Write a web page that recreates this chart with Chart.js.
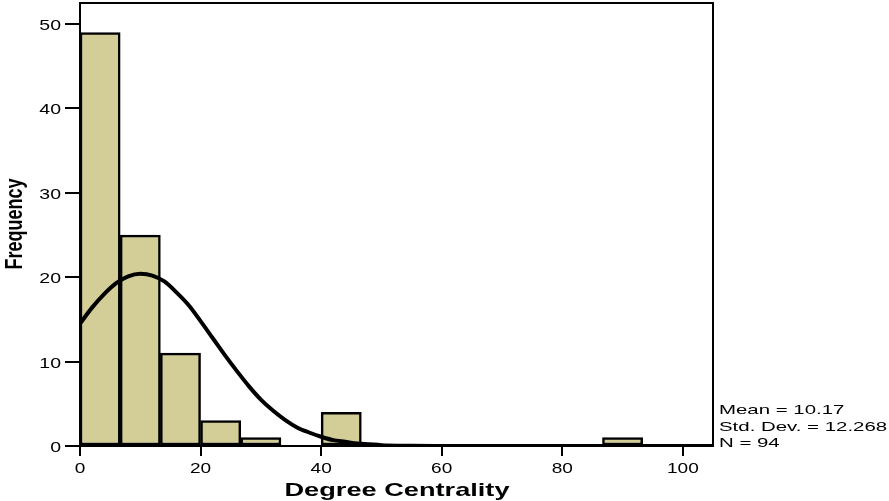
<!DOCTYPE html>
<html>
<head>
<meta charset="utf-8">
<script src="https://cdn.jsdelivr.net/npm/chart.js@4"></script>
<style>
  html, body { margin: 0; padding: 0; background: #fff; }
  canvas { display: block; }
</style>
</head>
<body>
<canvas id="histChart" width="889" height="501"></canvas>
<script>
// Histogram bins (start / end) and frequencies
const binStarts = [0, 6.67, 13.33, 20, 26.67, 33.33, 40, 46.67, 53.33, 60, 66.67, 73.33, 80, 86.67, 93.33];
const binEnds   = [6.67, 13.33, 20, 26.67, 33.33, 40, 46.67, 53.33, 60, 66.67, 73.33, 80, 86.67, 93.33, 100];
const counts    = [49, 25, 11, 3, 1, 0, 4, 0, 0, 0, 0, 0, 0, 1, 0];

// Normal curve
const curveX = [0, 2, 4, 6, 8, 10, 12, 14, 16, 18, 20, 22, 24, 26, 28, 30, 32, 34, 36, 38, 40, 42, 44, 46, 48, 50, 55, 60, 70, 80, 90, 100, 105];
const curveY = [14.5, 16.4, 18.0, 19.3, 20.1, 20.4, 20.2, 19.5, 18.2, 16.7, 14.8, 12.8, 10.8, 8.9, 7.1, 5.5, 4.2, 3.1, 2.2, 1.6, 1.1, 0.7, 0.5, 0.3, 0.2, 0.1, 0.03, 0.01, 0, 0, 0, 0, 0];

// Axis ticks
const xTicks = [0, 20, 40, 60, 80, 100];
const yTicks = [0, 10, 20, 30, 40, 50];

const statsLines = ['Mean = 10.17', 'Std. Dev. = 12.268', 'N = 94'];
const xTitle = 'Degree Centrality';
const yTitle = 'Frequency';

const FONT = '"Liberation Sans", Arial, Helvetica, sans-serif';

// draws text squeezed / stretched horizontally by sx
function stretchText(ctx, text, x, y, sx, align, font) {
    ctx.save();
    ctx.font = font;
    ctx.translate(x, y);
    ctx.scale(sx, 1);
    ctx.textAlign = align;
    ctx.fillText(text, 0, 0);
    ctx.restore();
}

const framePlugin = {
    id: 'frameAndText',
    afterDraw(chart) {
        const ctx = chart.ctx;
        const area = chart.chartArea;
        const xs = chart.scales.x;
        const ys = chart.scales.y;

        ctx.save();
        ctx.strokeStyle = '#000';
        ctx.lineWidth = 2;
        ctx.strokeRect(area.left, area.top, area.right - area.left, area.bottom - area.top);

        ctx.fillStyle = '#000';
        ctx.textBaseline = 'alphabetic';

        // tick labels
        xs.ticks.forEach(t => {
            stretchText(ctx, String(t.value), xs.getPixelForValue(t.value), 473, 1.27, 'center', '15px ' + FONT);
        });
        ys.ticks.forEach(t => {
            stretchText(ctx, String(t.value), 61, ys.getPixelForValue(t.value) + 6, 1.3, 'right', '15px ' + FONT);
        });

        // x title
        ctx.font = 'bold 19px ' + FONT;
        let w = ctx.measureText(xTitle).width;
        stretchText(ctx, xTitle, 397, 496, 225 / w, 'center', 'bold 19px ' + FONT);

        // y title (rotated)
        ctx.font = 'bold 18px ' + FONT;
        w = ctx.measureText(yTitle).width;
        ctx.save();
        ctx.translate(22, 224);
        ctx.rotate(-Math.PI / 2);
        ctx.scale(91 / w, 1.32);
        ctx.textAlign = 'center';
        ctx.fillText(yTitle, 0, 0);
        ctx.restore();

        // stats box
        const baselines = [414, 431, 447];
        statsLines.forEach((line, i) => {
            stretchText(ctx, line, 719, baselines[i], 1.57, 'left', '13px ' + FONT);
        });
        ctx.restore();
    }
};

const barData = counts.map((c, i) => ({ x: (binStarts[i] + binEnds[i]) / 2, y: c }));
const curveData = curveX.map((x, i) => ({ x: x, y: curveY[i] }));

new Chart(document.getElementById('histChart'), {
    type: 'bar',
    data: {
        datasets: [
            {
                type: 'line',
                data: curveData,
                borderColor: '#000',
                borderWidth: 4,
                pointRadius: 0,
                cubicInterpolationMode: 'monotone',
                fill: false,
                order: 0
            },
            {
                type: 'bar',
                data: barData,
                backgroundColor: '#D3CE97',
                borderColor: '#000',
                borderWidth: 2.5,
                borderSkipped: false,
                barPercentage: 1,
                categoryPercentage: 1,
                order: 1
            }
        ]
    },
    options: {
        responsive: false,
        devicePixelRatio: 1,
        animation: false,
        layout: { padding: { left: 0, top: 3, right: 176, bottom: 0 } },
        plugins: {
            legend: { display: false },
            tooltip: { enabled: false }
        },
        scales: {
            x: {
                type: 'linear',
                min: 0,
                max: 105,
                offset: false,
                afterBuildTicks: scale => { scale.ticks = xTicks.map(v => ({ value: v })); },
                afterFit: scale => { scale.height = 55; },
                ticks: { display: false },
                grid: { offset: false, drawOnChartArea: false, drawTicks: true, tickLength: 10, color: '#000', lineWidth: 2 },
                border: { display: true, color: '#000', width: 2 }
            },
            y: {
                min: 0,
                max: 52.5,
                afterBuildTicks: scale => { scale.ticks = yTicks.map(v => ({ value: v })); },
                afterFit: scale => { scale.width = 80; },
                ticks: { display: false },
                grid: { drawOnChartArea: false, drawTicks: true, tickLength: 15, color: '#000', lineWidth: 2 },
                border: { display: true, color: '#000', width: 2 }
            }
        }
    },
    plugins: [framePlugin]
});
</script>
</body>
</html>
